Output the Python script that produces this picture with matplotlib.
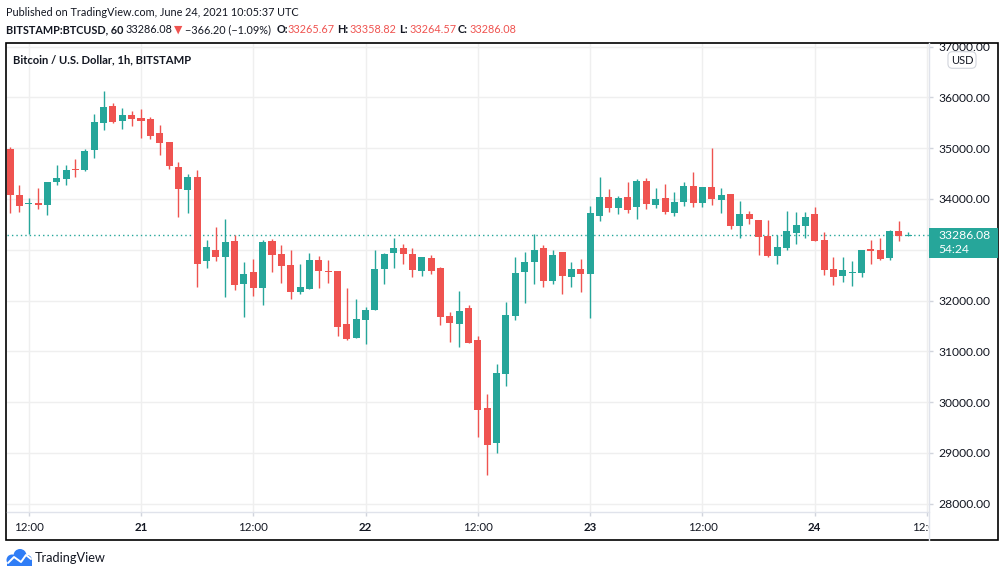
import numpy as np
import matplotlib
matplotlib.use("Agg")
import matplotlib.pyplot as plt
from matplotlib.patches import Rectangle, Circle
from matplotlib.transforms import Affine2D, Bbox, TransformedBbox, blended_transform_factory

# %%
# hourly candles, BITSTAMP:BTCUSD, 20 Jun 10:00 -> 24 Jun 10:00 (UTC)
opens = [34984, 34079, 33895, 33921, 33882, 34335, 34394, 34590, 34571, 34970,
         35502, 35831, 35535, 35654, 35594, 35575, 35299, 35122, 34630, 34183,
         34433, 32785, 32996, 32864, 33173, 32333, 32563, 32254, 33173, 32917,
         32701, 32175, 32234, 32799, 32583, 32583, 31539, 31269, 31624, 31821,
         32628, 32943, 33035, 32917, 32589, 32839, 32642, 31703, 31545, 31854,
         31224, 29886, 29203, 30561, 31703, 32569, 32766, 33035, 32392, 32957,
         32471, 32622, 32530, 33671, 34039, 33829, 34039, 33848, 34354, 33888,
         34020, 33730, 33947, 34256, 33927, 34236, 33980, 34098, 33475, 33704,
         33586, 33278, 32884, 33041, 33337, 33474, 33704, 33199, 32622, 32490,
         32549, 32549, 33016, 32996, 32839, 33370, 33265.67]
highs = [35030, 34276, 34026, 34217, 34335, 34670, 34670, 34787, 34984, 35673,
         36126, 35890, 35791, 35732, 35772, 35614, 35457, 35130, 34728, 34492,
         34571, 33193, 33455, 33606, 33291, 32766, 32819, 33193, 33213, 33094,
         32996, 32720, 32937, 32878, 32799, 32589, 32248, 32031, 31874, 32996,
         32937, 33232, 33114, 33035, 32858, 32898, 32661, 31782, 32195, 31913,
         31303, 30161, 30752, 31972, 32858, 32957, 33311, 33094, 32996, 32965,
         32760, 32819, 33862, 34433, 34197, 34050, 34335, 34394, 34413, 34217,
         34295, 34138, 34335, 34531, 34245, 35004, 34217, 34105, 33961, 33763,
         33595, 33586, 33297, 33763, 33744, 33744, 33843, 33356, 32852, 32858,
         32780, 33000, 33193, 33232, 33390, 33567, 33358.82]
lows = [33730, 33750, 33311, 33809, 33690, 34276, 34276, 34433, 34560, 34807,
        35358, 35496, 35378, 35437, 35201, 35181, 34866, 34590, 33652, 33730,
        32274, 32648, 32785, 32077, 32215, 31683, 32097, 31919, 32569, 32352,
        32037, 32136, 32220, 32254, 32352, 31309, 31230, 31260, 31151, 31815,
        32333, 32648, 32726, 32470, 32490, 32530, 31526, 31191, 31093, 31171,
        29320, 28573, 29006, 30325, 31624, 31959, 32333, 32274, 32333, 32136,
        32274, 32175, 31663, 33573, 33750, 33711, 33730, 33612, 33809, 33829,
        33711, 33671, 33868, 33848, 33848, 33888, 33730, 33416, 33238, 33514,
        32904, 32864, 32726, 33002, 33120, 33238, 33179, 32510, 32313, 32372,
        32293, 32470, 32726, 32799, 32799, 33179, 33264.57]
closes = [34079, 33868, 33905, 33888, 34335, 34413, 34571, 34571, 34945, 35516,
          35811, 35516, 35654, 35575, 35541, 35246, 35108, 34655, 34203, 34433,
          32726, 33055, 32864, 33153, 32313, 32524, 32254, 33153, 32904, 32687,
          32175, 32268, 32799, 32589, 32570, 31486, 31250, 31638, 31815, 32622,
          32917, 33035, 32923, 32608, 32858, 32589, 31683, 31565, 31795, 31171,
          29852, 29163, 30575, 31717, 32543, 32760, 32996, 32392, 32898, 32490,
          32622, 32530, 33724, 34039, 33829, 34020, 33789, 34354, 33907, 34000,
          33750, 33941, 34256, 33927, 34236, 34006, 34079, 33475, 33704, 33612,
          33258, 32884, 33061, 33370, 33488, 33646, 33179, 32608, 32471, 32602,
          32569, 32996, 32983, 32819, 33370, 33266, 33286.08]

price_ticks = [28000, 29000, 30000, 31000, 32000, 33000, 34000, 35000, 36000, 37000]
time_tick_bars = [2, 14, 26, 38, 50, 62, 74, 86, 98]      # bar index of each label
time_tick_labels = ["12:00", "21", "12:00", "22", "12:00", "23", "12:00", "24", "12:00"]
day_labels = {"21", "22", "23", "24"}
last_price = closes[-1]

# %%
UP = "#26a69a"
DOWN = "#ef5350"
GRID = "#efefef"
TXT = "#131722"
FONT = "Lato"

plt.rcParams["font.family"] = [FONT, "DejaVu Sans"]

W, H = 1006, 577
fig = plt.figure(figsize=(W / 100, H / 100), dpi=100)
fig.patch.set_facecolor("white")
# pixel coordinates with the origin top-left
pix = Affine2D().scale(0.01, -0.01).translate(0, H / 100) + fig.dpi_scale_trans


def clip_region(x0, y0, x1, y1):
    # box given in top-left pixel coords -> display bbox
    return TransformedBbox(Bbox.from_extents(x0 / 100, (H - y1) / 100, x1 / 100, (H - y0) / 100),
                           fig.dpi_scale_trans)


pl, pr, pt, pb = 7, 929, 43, 512                   # pane edges in pixels
ax = fig.add_axes([pl / W, 1 - pb / H, (pr - pl) / W, (pb - pt) / H])

idx = np.arange(len(closes))
o, h, l, c = map(np.array, (opens, highs, lows, closes))
up = c >= o
cols = np.where(up, UP, DOWN)

body_lo = np.minimum(o, c)
body_h = np.maximum(np.abs(c - o), 20)
ax.vlines(idx, l, h, colors=cols, linewidth=1.0, zorder=3)
ax.bar(idx, body_h, bottom=body_lo, width=0.75, color=cols, linewidth=0, zorder=4)

ax.set_xlim(-0.32, 98.21)
ax.set_ylim(27838, 37071)

ax.axhline(last_price, color=UP, linestyle=(0, (1, 2.2)), linewidth=1.0, zorder=2)

# grid
for p in price_ticks:
    ax.axhline(p, color=GRID, linewidth=1.0, zorder=0)
for b in time_tick_bars:
    ax.axvline(b, color=GRID, linewidth=1.0, zorder=0)

for s in ax.spines.values():
    s.set_visible(False)

ax.yaxis.tick_right()
ax.set_yticks(price_ticks)
# the label hidden under the last price tag is left blank
ax.set_yticklabels(["" if abs(p - last_price) < 400 else f"{p:.2f}" for p in price_ticks])
ax.tick_params(axis="y", length=3, width=1, color="#d1d4dc", pad=4,
               labelsize=8.7, labelcolor=TXT)
ax.set_xticks(time_tick_bars)
ax.set_xticklabels(time_tick_labels)
ax.tick_params(axis="x", length=3, width=1, color="#d1d4dc", pad=4,
               labelsize=8.3, labelcolor=TXT)
for t in ax.get_xticklabels():
    if t.get_text() in day_labels:
        t.set_fontweight("bold")

# clip labels to their scale areas (37000 and the last 12:00 are cut off)
ybox = clip_region(pr, pt, 998, 540)
xbox = clip_region(pl, pb, pr, 540)
for t in ax.get_yticklabels():
    t.set_clip_box(ybox)
    t.set_clip_on(True)
for t in ax.get_xticklabels():
    t.set_clip_box(xbox)
    t.set_clip_on(True)

# frame and scale separators
fig.add_artist(plt.Line2D([pr, pr], [pt, 540], transform=pix, color="#e0e3eb", lw=1))
fig.add_artist(plt.Line2D([pl, pr], [pb, pb], transform=pix, color="#e0e3eb", lw=1))
fig.add_artist(Rectangle((6, 43), 992, 497, transform=pix, fill=False,
                         edgecolor="black", linewidth=1.2))

# last price tag on the scale
tag = blended_transform_factory(pix, ax.transData)
fig.add_artist(Rectangle((pr, last_price - 447), 998 - pr, 590, transform=tag,
                         facecolor=UP, edgecolor="none", zorder=5))
fig.text(938, last_price, f"{last_price:.2f}", transform=tag, color="white",
         fontsize=8.7, va="center", ha="left", zorder=6)
fig.text(938, last_price - 275, "54:24", transform=tag, color="white",
         fontsize=8.7, va="center", ha="left", zorder=6)

# USD badge
fig.text(962, 60, "USD", transform=pix, fontsize=8, color=TXT, ha="center", va="center",
         bbox=dict(boxstyle="round,pad=0.25,rounding_size=0.4", facecolor="white",
                   edgecolor="#d1d4dc", linewidth=0.8))

# title inside the pane
fig.text(13, 60, "Bitcoin / U.S. Dollar, 1h, BITSTAMP", transform=pix, fontsize=8.1,
         fontweight="bold", color=TXT, va="center")

# header
HS = 7.8
fig.text(6, 12.5, "Published on TradingView.com, June 24, 2021 10:05:37 UTC",
         transform=pix, fontsize=HS, color=TXT, va="center")
parts = [
    (6, "BITSTAMP:BTCUSD, 60", TXT, "bold"),
    (125, f"{last_price:.2f}", TXT, "normal"),
    (174, "\u25bc", DOWN, "normal"),
    (185, "\u2212366.20 (\u22121.09%)", TXT, "normal"),
    (277, "O:", TXT, "bold"),
    (287, f"{opens[-1]:.2f}", DOWN, "normal"),
    (337, "H:", TXT, "bold"),
    (349, f"{highs[-1]:.2f}", DOWN, "normal"),
    (399, "L:", TXT, "bold"),
    (409, f"{lows[-1]:.2f}", DOWN, "normal"),
    (458, "C:", TXT, "bold"),
    (469, f"{closes[-1]:.2f}", DOWN, "normal"),
]
for x, s, col, fw in parts:
    fig.text(x, 29.5, s, transform=pix, fontsize=HS, color=col, fontweight=fw,
             va="center", family=["DejaVu Sans"] if s == "\u25bc" else None)

# TradingView logo
BLUE = "#2f7df6"
for cx, cy, r in [(12, 560, 5.5), (20, 555.5, 6.5), (27, 560, 5.0)]:
    fig.add_artist(Circle((cx, cy), r, transform=pix, facecolor=BLUE, edgecolor="none"))
fig.add_artist(Rectangle((7, 560), 25, 5.5, transform=pix, facecolor=BLUE, edgecolor="none"))
fig.add_artist(plt.Line2D([8, 14, 21, 26, 31], [563, 557, 562, 555, 559], transform=pix,
                          color="white", lw=1.4, solid_capstyle="round"))
fig.text(35, 558.5, "TradingView", transform=pix, fontsize=9.2, color=TXT, va="center")

fig.savefig("out.png", dpi=100, facecolor="white")
